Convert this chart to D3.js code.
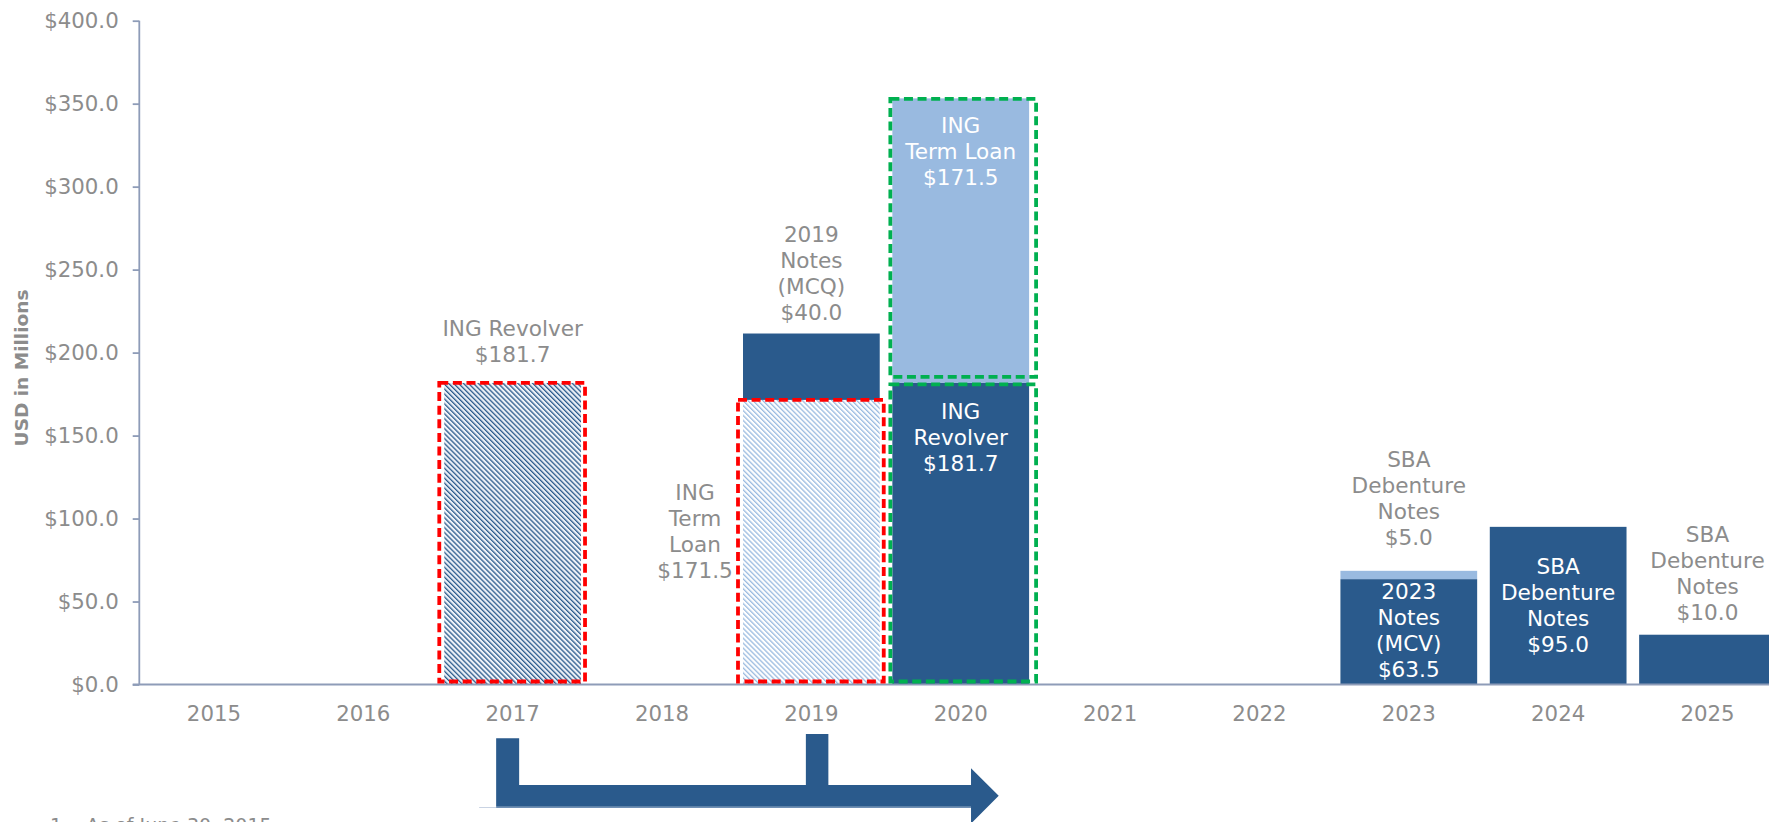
<!DOCTYPE html>
<html><head><meta charset="utf-8">
<script src="https://cdn.jsdelivr.net/npm/d3@7/dist/d3.min.js"></script>
<style>html,body{margin:0;padding:0;background:#fff;overflow:hidden}</style>
</head><body>
<svg id="chart" width="1769" height="822"></svg>
<script>
// ---------- data ----------
const years = [2015, 2016, 2017, 2018, 2019, 2020, 2021, 2022, 2023, 2024, 2025];
const hatchRevolver = [0, 0, 181.7, 0, 0, 0, 0, 0, 0, 0, 0];
const hatchTermLoan = [0, 0, 0, 0, 171.5, 0, 0, 0, 0, 0, 0];
const darkSeries    = [0, 0, 0, 0, 40.0, 181.7, 0, 0, 63.5, 95.0, 30.0];
const lightSeries   = [0, 0, 0, 0, 0, 171.5, 0, 0, 5.0, 0, 0];
const yTicks = [0, 50, 100, 150, 200, 250, 300, 350, 400];
const yTickLabels = ["$0.0", "$50.0", "$100.0", "$150.0", "$200.0", "$250.0", "$300.0", "$350.0", "$400.0"];

const labelYears  = [2017, 2019, 2019, 2020, 2020, 2023, 2023, 2024, 2025];
const labelLines  = [
  ["ING Revolver", "$181.7"],
  ["2019", "Notes", "(MCQ)", "$40.0"],
  ["ING", "Term", "Loan", "$171.5"],
  ["ING", "Term Loan", "$171.5"],
  ["ING", "Revolver", "$181.7"],
  ["SBA", "Debenture", "Notes", "$5.0"],
  ["2023", "Notes", "(MCV)", "$63.5"],
  ["SBA", "Debenture", "Notes", "$95.0"],
  ["SBA", "Debenture", "Notes", "$10.0"]
];
const labelValue  = [210.1, 266.8, 111.0, 332.2, 160.0, 130.8, 51.4, 66.5, 85.6]; // data value at first line
const labelInside = [false, false, false, true, true, false, true, true, false];
const footnote = "1.   As of June 30, 2015";
const yTitle = "USD in Millions";

// ---------- layout ----------
const W = 1769, H = 822;
const axisX = 139.3, step = 149.35;
const DARK = "#2a5a8c", LIGHT = "#99bae0", GRAY = "#8c8c8c", AXIS = "#8e9cb8";
const FONT = "'DejaVu Sans', Verdana, sans-serif";

const svg = d3.select("#chart");
const x = d3.scaleBand().domain(years).range([axisX, axisX + step * years.length]).paddingInner(0.0845).paddingOuter(0.042);
const y = d3.scaleLinear().domain([0, 400]).range([684.5, 20.7]);

// patterns
const defs = svg.append("defs");
function hatch(id, color, bg, w) {
  const p = defs.append("pattern").attr("id", id)
    .attr("patternUnits", "userSpaceOnUse").attr("width", 3.5).attr("height", 10)
    .attr("patternTransform", "rotate(-45)");
  p.append("rect").attr("width", 3.5).attr("height", 10).attr("fill", bg);
  p.append("rect").attr("width", w).attr("height", 10).attr("fill", color);
}
hatch("hDark", DARK, "#eef2f8", 1.3);
hatch("hLight", LIGHT, "#ffffff", 1.3);

// stacked data
const keys = ["hatchRevolver", "hatchTermLoan", "dark", "light"];
const fills = { hatchRevolver: "url(#hDark)", hatchTermLoan: "url(#hLight)", dark: DARK, light: LIGHT };
const rows = years.map((yr, i) => ({ year: yr, hatchRevolver: hatchRevolver[i], hatchTermLoan: hatchTermLoan[i], dark: darkSeries[i], light: lightSeries[i] }));
const stacked = d3.stack().keys(keys)(rows);

// axes
const yAxis = d3.axisLeft(y).tickValues(yTicks).tickFormat((d, i) => yTickLabels[i]).tickSize(6.6).tickPadding(14);
const gy = svg.append("g").attr("transform", `translate(${axisX},0)`).call(yAxis);
gy.select(".domain").attr("stroke", AXIS).attr("stroke-width", 1.8).attr("d", `M0,${y(400)}V${y(0)}`);
gy.selectAll(".tick line").attr("stroke", AXIS).attr("stroke-width", 1.8);
gy.selectAll(".tick text").attr("fill", GRAY).style("font-family", FONT).style("font-size", "21.3px");

// bars
stacked.forEach(layer => {
  svg.append("g").selectAll("rect").data(layer.filter(d => d[1] - d[0] > 0)).join("rect")
    .attr("x", d => x(d.data.year))
    .attr("width", x.bandwidth())
    .attr("y", d => y(d[1]))
    .attr("height", d => y(d[0]) - y(d[1]))
    .attr("fill", fills[layer.key]);
});

// x axis
const xAxis = d3.axisBottom(x).tickSize(0).tickPadding(21);
const gx = svg.append("g").attr("transform", `translate(0,${y(0)})`).call(xAxis);
gx.select(".domain").attr("stroke", AXIS).attr("stroke-width", 2).attr("d", `M${axisX - 6.6},0H${W}`);
gx.selectAll(".tick text").attr("fill", GRAY).style("font-family", FONT).style("font-size", "21.3px");

// dashed borders
const borders = [
  { key: "hatchRevolver", year: 2017, color: "#ff0000", l: -5, r: 4, t: 0, b: -3 },
  { key: "hatchTermLoan", year: 2019, color: "#ff0000", l: -5, r: 4, t: 0, b: -3 },
  { key: "light", year: 2020, color: "#00b050", l: -2, r: 7, t: 0.5, b: -6 },
  { key: "dark", year: 2020, color: "#00b050", l: -2, r: 7, t: 1.5, b: -3 }
];
borders.forEach(bd => {
  const layer = stacked.find(s => s.key === bd.key);
  const seg = layer[years.indexOf(bd.year)];
  const x0 = x(bd.year) + bd.l, x1 = x(bd.year) + x.bandwidth() + bd.r;
  const y0 = y(seg[1]) + bd.t, y1 = y(seg[0]) + bd.b;
  svg.append("rect").attr("x", x0).attr("y", y0).attr("width", x1 - x0).attr("height", y1 - y0)
    .attr("fill", "none").attr("stroke", bd.color).attr("stroke-width", 3.8)
    .attr("stroke-dasharray", "9 4.6");
});

// labels
const lineH = 26;
labelYears.forEach((yr, i) => {
  let cx = x(yr) + x.bandwidth() / 2;
  if (i === 2) cx = x(yr) - 48;
  const t = svg.append("text").attr("text-anchor", "middle")
    .attr("fill", labelInside[i] ? "#ffffff" : GRAY)
    .style("font-family", FONT).style("font-size", "21.6px");
  labelLines[i].forEach((ln, k) => {
    t.append("tspan").attr("x", cx).attr("y", y(labelValue[i]) + k * lineH).text(ln);
  });
});

// y title
svg.append("text").attr("transform", `translate(28,368) rotate(-90)`).attr("text-anchor", "middle")
  .attr("fill", GRAY).style("font-family", FONT).style("font-size", "18.5px").style("font-weight", "bold")
  .text(yTitle);

// bracket arrow (timeline annotation)
const c17 = x(2017) + x.bandwidth() / 2, c19 = x(2019) + x.bandwidth() / 2, c20 = x(2020) + x.bandwidth() / 2;
const shaftTop = 785, shaftBot = 806.7, mid = (shaftTop + shaftBot) / 2;
const v1L = c17 - 16.5, v1R = c17 + 6.5, v2L = c19 - 5.5, v2R = c19 + 17;
const headBase = c20 + 10.3, tip = c20 + 38;
const arrowPath = d3.path();
arrowPath.moveTo(v1L, 738.3);
arrowPath.lineTo(v1R, 738.3);
arrowPath.lineTo(v1R, shaftTop);
arrowPath.lineTo(v2L, shaftTop);
arrowPath.lineTo(v2L, 734);
arrowPath.lineTo(v2R, 734);
arrowPath.lineTo(v2R, shaftTop);
arrowPath.lineTo(headBase, shaftTop);
arrowPath.lineTo(headBase, mid - 27.7);
arrowPath.lineTo(tip, mid);
arrowPath.lineTo(headBase, mid + 27.7);
arrowPath.lineTo(headBase, shaftBot);
arrowPath.lineTo(v1L, shaftBot);
arrowPath.closePath();
svg.append("path").attr("d", arrowPath.toString()).attr("fill", DARK);
svg.append("line").attr("x1", v1L - 17).attr("x2", v1L).attr("y1", shaftBot + 0.8).attr("y2", shaftBot + 0.8)
  .attr("stroke", "#c9d3e3").attr("stroke-width", 1);
svg.append("line").attr("x1", v1L).attr("x2", headBase).attr("y1", shaftBot + 0.8).attr("y2", shaftBot + 0.8)
  .attr("stroke", "#6f8fb4").attr("stroke-width", 1);

// footnote
svg.append("text").attr("x", 50).attr("y", 832).attr("fill", GRAY)
  .style("font-family", FONT).style("font-size", "19px").style("white-space", "pre")
  .text(footnote);
</script>
</body></html>
